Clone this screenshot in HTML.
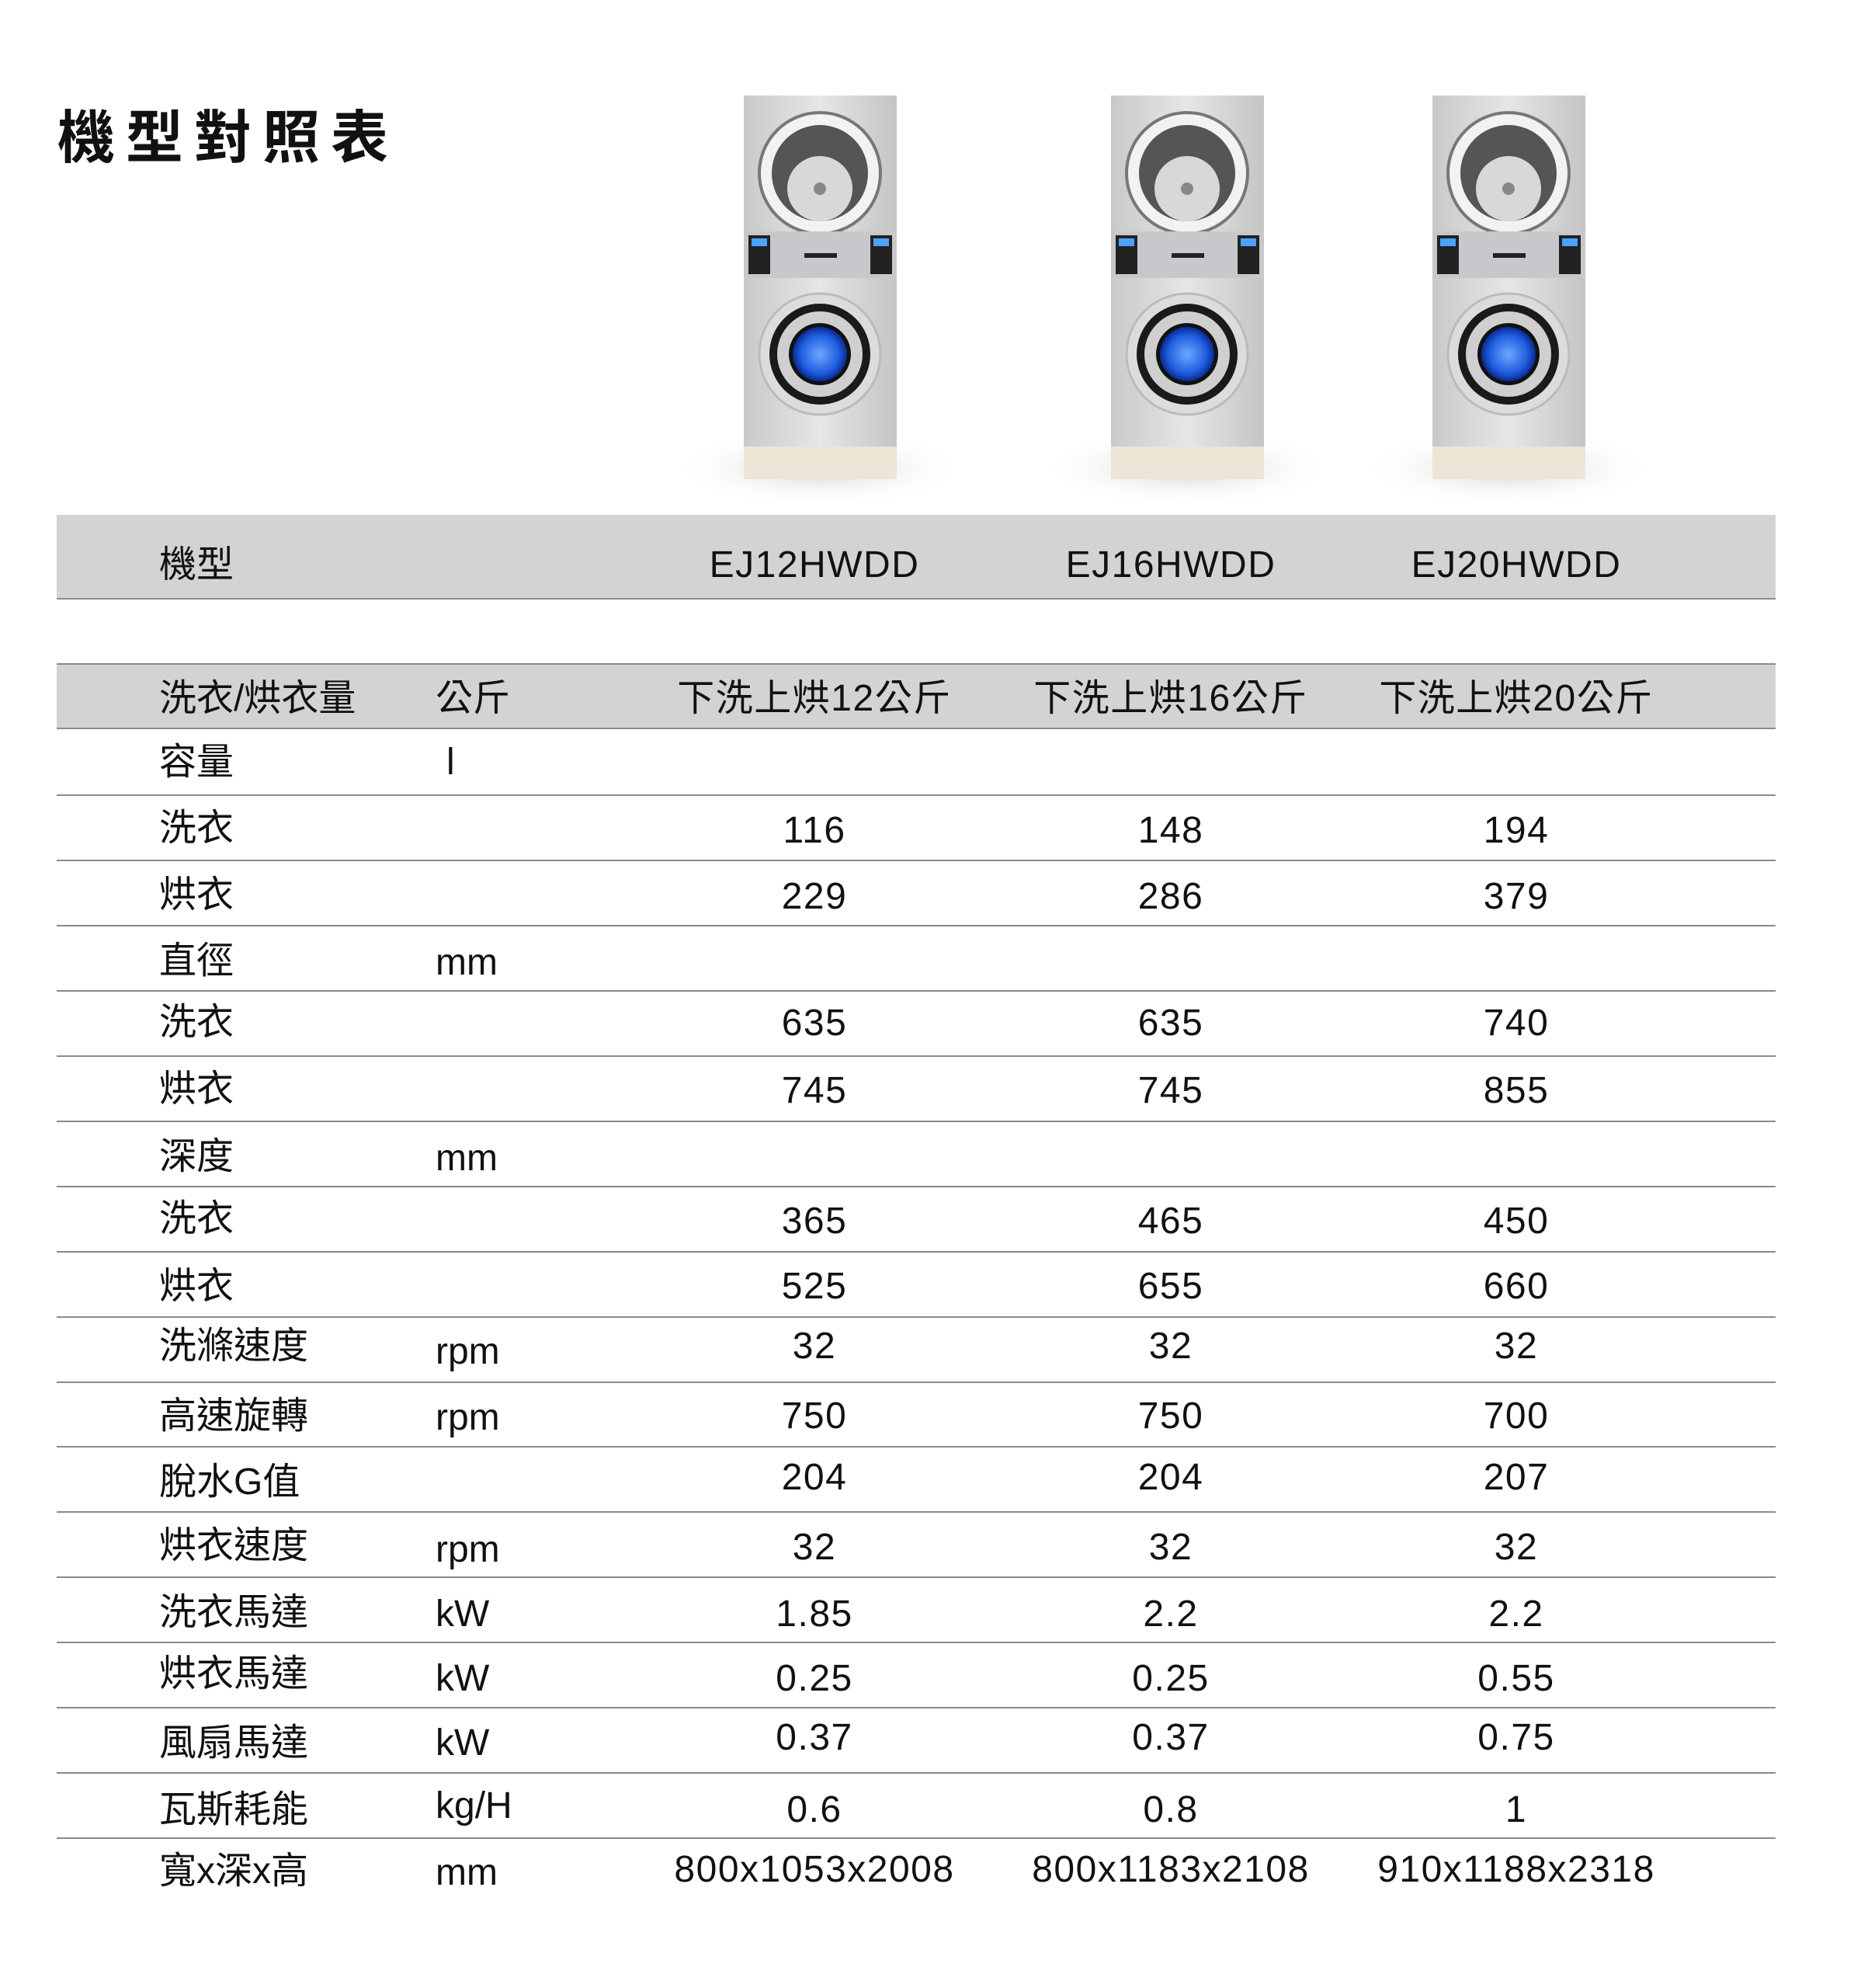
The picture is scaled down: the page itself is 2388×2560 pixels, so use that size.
<!DOCTYPE html>
<html><head><meta charset="utf-8"><style>
body{margin:0;width:2388px;height:2560px;background:#fff;position:relative;overflow:hidden;font-family:"Liberation Sans","Noto Sans CJK TC",sans-serif;color:#111}
.t{position:absolute;font-size:48px;line-height:1;white-space:nowrap;transform:translateY(-50%)}
.c{transform:translate(-50%,-50%);letter-spacing:1.5px}
.band{position:absolute;left:73px;width:2214px;background:#d3d3d3}
.ln{position:absolute;left:73px;width:2214px;height:2px;background:#8a8a8a}
</style></head><body>
<div class="t" style="left:74px;top:172px;font-size:74px;font-weight:bold;letter-spacing:14px;font-family:'Noto Sans CJK TC',sans-serif">機型對照表</div>

<svg width="2388" height="660" style="position:absolute;left:0;top:0">
<defs>
<radialGradient id="sh" cx="50%" cy="50%" r="50%"><stop offset="0" stop-color="#bbb" stop-opacity=".7"/><stop offset="1" stop-color="#fff" stop-opacity="0"/></radialGradient>
<linearGradient id="st" x1="0" x2="1"><stop offset="0" stop-color="#c9c9c9"/><stop offset=".5" stop-color="#e6e6e6"/><stop offset="1" stop-color="#c4c4c4"/></linearGradient>
<radialGradient id="bl"><stop offset="0" stop-color="#6fa8ff"/><stop offset=".7" stop-color="#1f5ee0"/><stop offset="1" stop-color="#0a2a90"/></radialGradient>
<g id="m">
<ellipse cx="98" cy="480" rx="190" ry="50" fill="url(#sh)"/>
<rect x="0" y="0" width="197" height="452" fill="url(#st)"/>
<circle cx="98" cy="100" r="78" fill="#f2f2f2" stroke="#777" stroke-width="4"/>
<circle cx="98" cy="100" r="62" fill="#555"/>
<circle cx="98" cy="120" r="42" fill="#d8d8d8"/>
<circle cx="98" cy="120" r="8" fill="#888"/>
<rect x="0" y="175" width="197" height="60" fill="#c8c8cc"/>
<rect x="6" y="180" width="28" height="50" fill="#222"/><rect x="163" y="180" width="28" height="50" fill="#222"/>
<rect x="10" y="184" width="20" height="10" fill="#4aa3ff"/><rect x="167" y="184" width="20" height="10" fill="#4aa3ff"/>
<rect x="78" y="203" width="42" height="6" fill="#222"/>
<circle cx="98" cy="333" r="78" fill="#dcdcdc" stroke="#bbb" stroke-width="3"/>
<circle cx="98" cy="333" r="65" fill="#1a1a1a"/>
<circle cx="98" cy="333" r="55" fill="#cfcfcf"/>
<circle cx="98" cy="333" r="40" fill="#111"/>
<circle cx="98" cy="333" r="35" fill="url(#bl)"/>
<rect x="0" y="452" width="197" height="42" fill="#ece5d6"/>
</g></defs>
<use href="#m" x="958" y="123"/>
<use href="#m" x="1431" y="123"/>
<use href="#m" x="1845" y="123"/>
</svg>

<div class="band" style="top:663px;height:107px"></div><div class="ln" style="top:770px"></div>
<div class="ln" style="top:854px"></div>
<div class="band" style="top:856px;height:81px"></div>
<div class="ln" style="top:937px"></div>
<div class="ln" style="top:1023px"></div><div class="ln" style="top:1107px"></div><div class="ln" style="top:1191px"></div>
<div class="ln" style="top:1275px"></div><div class="ln" style="top:1359px"></div><div class="ln" style="top:1443px"></div>
<div class="ln" style="top:1527px"></div><div class="ln" style="top:1611px"></div><div class="ln" style="top:1695px"></div>
<div class="ln" style="top:1779px"></div><div class="ln" style="top:1862px"></div><div class="ln" style="top:1946px"></div>
<div class="ln" style="top:2030px"></div><div class="ln" style="top:2114px"></div><div class="ln" style="top:2198px"></div>
<div class="ln" style="top:2282px"></div><div class="ln" style="top:2366px"></div>

<div class="t" style="left:205px;top:728px">機型</div>
<div class="t c" style="left:1049px;top:728px">EJ12HWDD</div>
<div class="t c" style="left:1508px;top:728px">EJ16HWDD</div>
<div class="t c" style="left:1953px;top:728px">EJ20HWDD</div>

<div class="t" style="left:205px;top:900px">洗衣/烘衣量</div><div class="t" style="left:561px;top:900px">公斤</div>
<div class="t c" style="left:1049px;top:900px">下洗上烘12公斤</div><div class="t c" style="left:1508px;top:900px">下洗上烘16公斤</div><div class="t c" style="left:1953px;top:900px">下洗上烘20公斤</div>

<div class="t" style="left:205px;top:982px">容量</div><div class="t" style="left:575px;top:982px">l</div>

<div class="t" style="left:205px;top:1067px">洗衣</div><div class="t c" style="left:1049px;top:1070px">116</div><div class="t c" style="left:1508px;top:1070px">148</div><div class="t c" style="left:1953px;top:1070px">194</div>
<div class="t" style="left:205px;top:1153px">烘衣</div><div class="t c" style="left:1049px;top:1155px">229</div><div class="t c" style="left:1508px;top:1155px">286</div><div class="t c" style="left:1953px;top:1155px">379</div>
<div class="t" style="left:205px;top:1238px">直徑</div><div class="t" style="left:561px;top:1240px">mm</div>
<div class="t" style="left:205px;top:1317px">洗衣</div><div class="t c" style="left:1049px;top:1318px">635</div><div class="t c" style="left:1508px;top:1318px">635</div><div class="t c" style="left:1953px;top:1318px">740</div>
<div class="t" style="left:205px;top:1403px">烘衣</div><div class="t c" style="left:1049px;top:1405px">745</div><div class="t c" style="left:1508px;top:1405px">745</div><div class="t c" style="left:1953px;top:1405px">855</div>
<div class="t" style="left:205px;top:1490px">深度</div><div class="t" style="left:561px;top:1492px">mm</div>
<div class="t" style="left:205px;top:1570px">洗衣</div><div class="t c" style="left:1049px;top:1573px">365</div><div class="t c" style="left:1508px;top:1573px">465</div><div class="t c" style="left:1953px;top:1573px">450</div>
<div class="t" style="left:205px;top:1657px">烘衣</div><div class="t c" style="left:1049px;top:1657px">525</div><div class="t c" style="left:1508px;top:1657px">655</div><div class="t c" style="left:1953px;top:1657px">660</div>
<div class="t" style="left:205px;top:1734px">洗滌速度</div><div class="t" style="left:561px;top:1741px">rpm</div><div class="t c" style="left:1049px;top:1734px">32</div><div class="t c" style="left:1508px;top:1734px">32</div><div class="t c" style="left:1953px;top:1734px">32</div>
<div class="t" style="left:205px;top:1824px">高速旋轉</div><div class="t" style="left:561px;top:1826px">rpm</div><div class="t c" style="left:1049px;top:1824px">750</div><div class="t c" style="left:1508px;top:1824px">750</div><div class="t c" style="left:1953px;top:1824px">700</div>
<div class="t" style="left:205px;top:1909px">脫水G值</div><div class="t c" style="left:1049px;top:1903px">204</div><div class="t c" style="left:1508px;top:1903px">204</div><div class="t c" style="left:1953px;top:1903px">207</div>
<div class="t" style="left:205px;top:1991px">烘衣速度</div><div class="t" style="left:561px;top:1996px">rpm</div><div class="t c" style="left:1049px;top:1993px">32</div><div class="t c" style="left:1508px;top:1993px">32</div><div class="t c" style="left:1953px;top:1993px">32</div>
<div class="t" style="left:205px;top:2077px">洗衣馬達</div><div class="t" style="left:561px;top:2079px">kW</div><div class="t c" style="left:1049px;top:2079px">1.85</div><div class="t c" style="left:1508px;top:2079px">2.2</div><div class="t c" style="left:1953px;top:2079px">2.2</div>
<div class="t" style="left:205px;top:2156px">烘衣馬達</div><div class="t" style="left:561px;top:2162px">kW</div><div class="t c" style="left:1049px;top:2162px">0.25</div><div class="t c" style="left:1508px;top:2162px">0.25</div><div class="t c" style="left:1953px;top:2162px">0.55</div>
<div class="t" style="left:205px;top:2245px">風扇馬達</div><div class="t" style="left:561px;top:2245px">kW</div><div class="t c" style="left:1049px;top:2238px">0.37</div><div class="t c" style="left:1508px;top:2238px">0.37</div><div class="t c" style="left:1953px;top:2238px">0.75</div>
<div class="t" style="left:205px;top:2331px">瓦斯耗能</div><div class="t" style="left:561px;top:2326px">kg/H</div><div class="t c" style="left:1049px;top:2331px">0.6</div><div class="t c" style="left:1508px;top:2331px">0.8</div><div class="t c" style="left:1953px;top:2331px">1</div>
<div class="t" style="left:205px;top:2410px">寬x深x高</div><div class="t" style="left:561px;top:2412px">mm</div><div class="t c" style="left:1049px;top:2408px">800x1053x2008</div><div class="t c" style="left:1508px;top:2408px">800x1183x2108</div><div class="t c" style="left:1953px;top:2408px">910x1188x2318</div>
</body></html>
